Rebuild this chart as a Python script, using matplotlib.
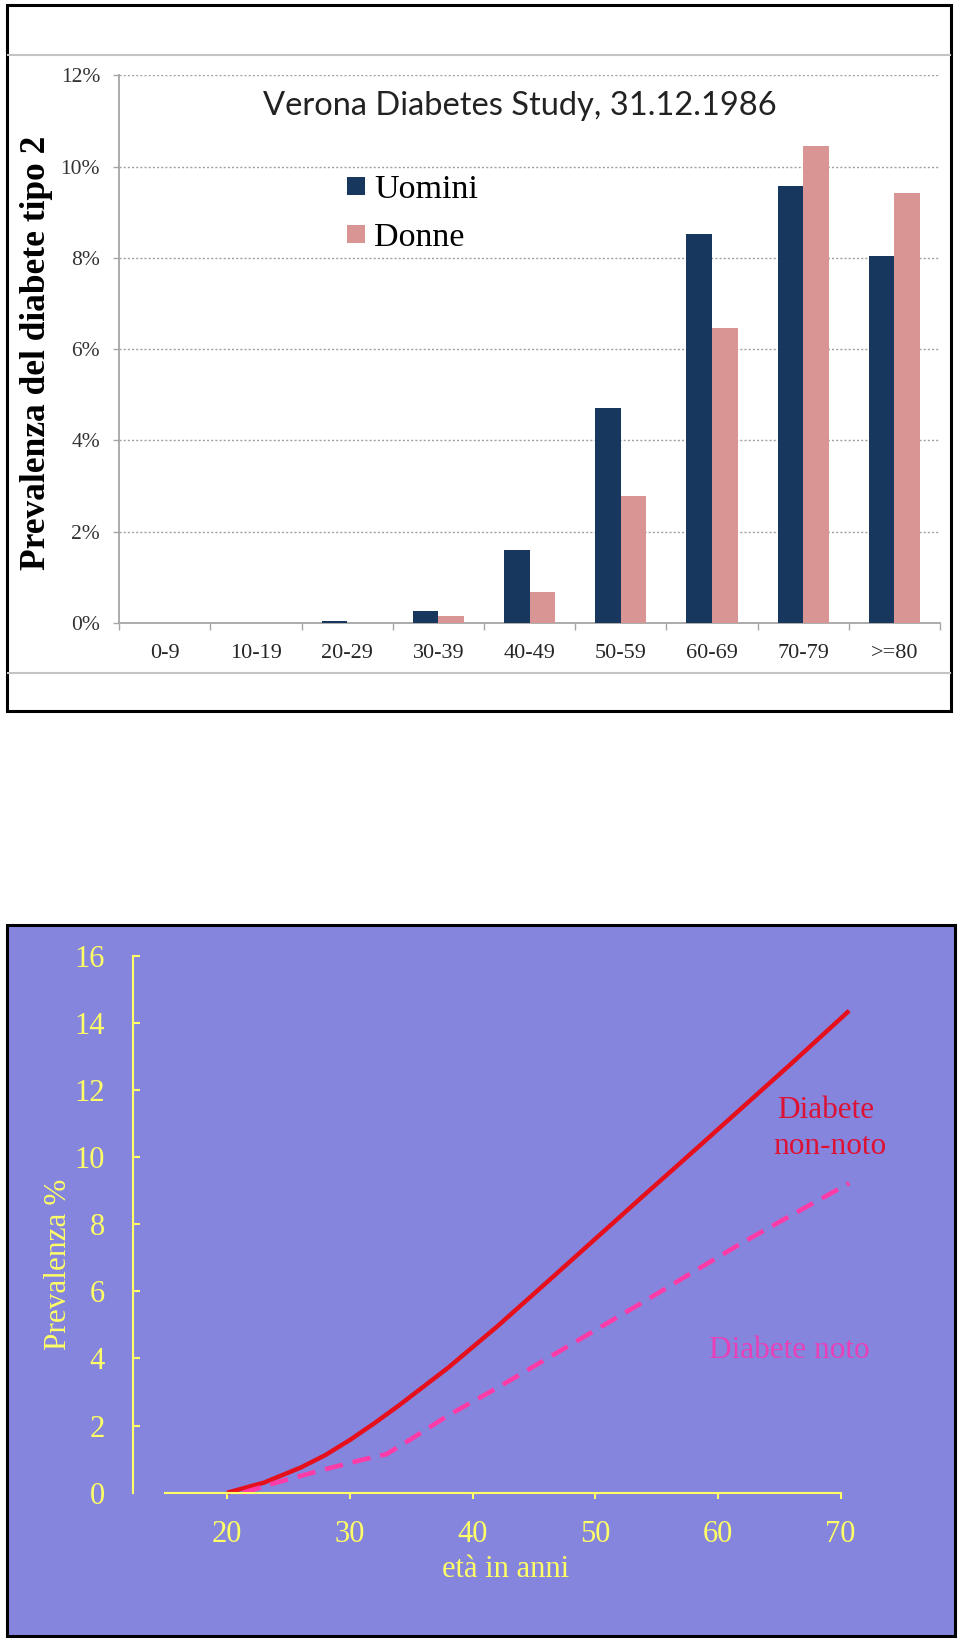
import matplotlib.pyplot as plt
from matplotlib.patches import Rectangle
from matplotlib.lines import Line2D
import numpy as np

W, H = 960, 1641

# Verona Diabetes Study, prevalenza (%) per classe di età
classi = ['0-9', '10-19', '20-29', '30-39', '40-49', '50-59', '60-69', '70-79', '>=80']
uomini = [0, 0, 0.05, 0.27, 1.61, 4.72, 8.52, 9.57, 8.03]
donne = [0, 0, 0, 0.16, 0.68, 2.78, 6.46, 10.44, 9.43]

# prevalenza % per età: diabete non-noto / noto
eta_nonnoto = [20, 23, 26, 28, 30, 32, 34, 36, 38, 42, 46, 50, 54, 58, 62, 66, 70.7]
prev_nonnoto = [0, 0.3, 0.75, 1.12, 1.57, 2.07, 2.6, 3.16, 3.72, 4.95, 6.25,
                7.56, 8.87, 10.17, 11.48, 12.79, 14.36]
eta_noto = [21.3, 24, 28, 31, 33, 35, 38, 42, 46, 50, 54, 58, 62, 66, 70.7]
prev_noto = [0, 0.3, 0.7, 0.98, 1.15, 1.6, 2.3, 3.12, 3.98, 4.84, 5.7, 6.58,
             7.45, 8.27, 9.22]

eta_ticks = [20, 30, 40, 50, 60, 70]
prev_ticks = [0, 2, 4, 6, 8, 10, 12, 14, 16]
pct_ticks = [0, 2, 4, 6, 8, 10, 12]

serif = 'Liberation Serif'
giallo = '#FFFF66'
grigio = '#A6A6A6'


def fx(px):
    return px / W


def fy(py):
    return 1 - py / H


fig = plt.figure(figsize=(W / 100, H / 100), dpi=100)

# ---------------- pannello superiore ----------------
fig.add_artist(Rectangle((fx(7), fy(711)), fx(951) - fx(7), fy(5) - fy(711),
                         transform=fig.transFigure, fill=False,
                         edgecolor='black', linewidth=2.2))
for yy in (55, 672.7):
    fig.add_artist(Line2D([fx(8), fx(950)], [fy(yy), fy(yy)],
                          transform=fig.transFigure, color='#C4C4C4', linewidth=1.5))

ax1 = fig.add_axes([fx(119.3), fy(623), (940 - 119.3) / W, (623 - 75.2) / H])
x = np.arange(len(classi))
ax1.bar(x - 0.14, uomini, 0.28, color='#17375E', label='Uomini', zorder=3)
ax1.bar(x + 0.14, donne, 0.28, color='#D99594', label='Donne', zorder=3)
ax1.set_xlim(-0.5, len(classi) - 0.5)
ax1.set_ylim(0, 12)
ax1.set_yticks(pct_ticks)
ax1.set_yticklabels([f'{v}%' for v in pct_ticks], fontfamily=serif, fontsize=15.5,
                    color='#333333')
ax1.set_xticks(x)
ax1.set_xticklabels(classi, fontfamily=serif, fontsize=16, color='#262626')
ax1.set_xticks(np.arange(-0.5, len(classi), 1), minor=True)
ax1.tick_params(axis='x', which='major', length=0, pad=15)
ax1.tick_params(axis='x', which='minor', length=5, width=1, color=grigio, direction='out')
ax1.tick_params(axis='y', length=4.3, width=1, color=grigio, pad=9.5)
ax1.yaxis.grid(True, linestyle=(0, (1.5, 1.5)), color='#A0A0A0', linewidth=1)
ax1.set_axisbelow(True)
for s in ('top', 'right'):
    ax1.spines[s].set_visible(False)
for s in ('left', 'bottom'):
    ax1.spines[s].set_color(grigio)
    ax1.spines[s].set_linewidth(1.3)

fig.text(fx(520), fy(114.6), 'Verona Diabetes Study, 31.12.1986', family='Lato',
         fontsize=23.5, color='#222222', ha='center', va='baseline')
fig.text(fx(36.6), fy(353), 'Prevalenza del diabete tipo 2', family=serif,
         fontweight='bold', fontsize=25.5, rotation=90, ha='center', va='center')
ax1.legend(loc='upper left', bbox_to_anchor=(fx(346.7), fy(175)),
           bbox_transform=fig.transFigure, frameon=False, borderpad=0,
           borderaxespad=0, handlelength=0.53, handleheight=0.44,
           handletextpad=0.27, labelspacing=0.5,
           prop={'family': serif, 'size': 24.5})

# ---------------- pannello inferiore ----------------
fig.add_artist(Rectangle((fx(7), fy(1636)), fx(955) - fx(7), fy(925) - fy(1636),
                         transform=fig.transFigure, facecolor='#8585DD',
                         edgecolor='black', linewidth=2.2, zorder=0))

ax2 = fig.add_axes([fx(132.7), fy(1492.7), (870 - 132.7) / W, (1492.7 - 955.7) / H])
ax2.set_facecolor('none')
ax2.plot(eta_nonnoto, prev_nonnoto, color='#E5101C', linewidth=3.2,
         solid_capstyle='butt', solid_joinstyle='round', clip_on=False)
ax2.plot(eta_noto, prev_noto, color='#FF3BA7', linewidth=3.3,
         dashes=(4, 2.2), clip_on=False)
ax2.set_xlim(12.3, 72.4)
ax2.set_ylim(0, 16)
ax2.set_xticks(eta_ticks)
ax2.set_xticklabels([str(v) for v in eta_ticks], fontfamily=serif, fontsize=22,
                    color=giallo)
ax2.set_yticks(prev_ticks)
ax2.set_yticklabels([str(v) for v in prev_ticks], fontfamily=serif, fontsize=22,
                    color=giallo)
ax2.tick_params(axis='x', direction='out', length=4, width=1.5, color=giallo, pad=16)
ax2.tick_params(axis='y', direction='in', length=5, width=1.5, color=giallo, pad=20)
ax2.yaxis.get_major_ticks()[0].tick1line.set_visible(False)
for s in ('top', 'right'):
    ax2.spines[s].set_visible(False)
for s in ('left', 'bottom'):
    ax2.spines[s].set_color(giallo)
    ax2.spines[s].set_linewidth(1.5)
ax2.spines['bottom'].set_bounds(14.9, 70)
ax2.spines['left'].set_bounds(0, 16)

fig.text(fx(58), fy(1264), 'Prevalenza %', family=serif, fontsize=22.5,
         color=giallo, rotation=90, ha='center', va='center')
fig.text(fx(505.6), fy(1577), 'età in anni', family=serif, fontsize=22,
         color=giallo, ha='center', va='baseline')
fig.text(fx(826), fy(1118.5), 'Diabete', family=serif, fontsize=22.5,
         color='#DD1133', ha='center', va='baseline')
fig.text(fx(830), fy(1154), 'non-noto', family=serif, fontsize=22.5,
         color='#DD1133', ha='center', va='baseline')
fig.text(fx(789), fy(1358.5), 'Diabete noto', family=serif, fontsize=22.5,
         color='#E940B8', ha='center', va='baseline')

fig.savefig('out.png', dpi=100)
